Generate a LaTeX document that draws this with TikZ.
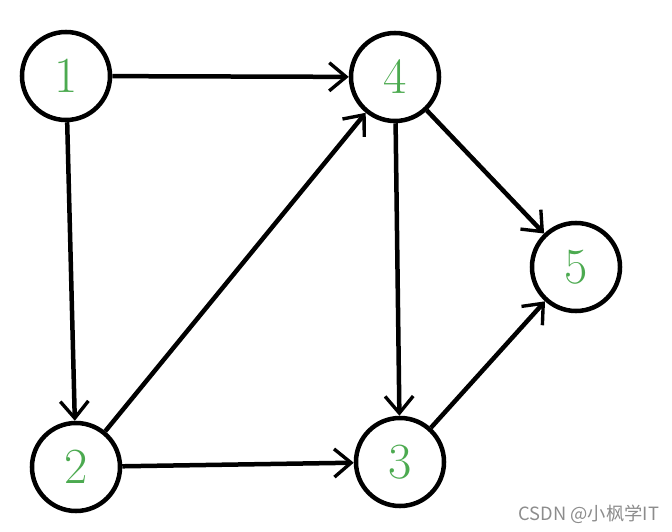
\documentclass[tikz,border=0pt]{standalone}
\usepackage{xcolor}
\usepackage{fontspec}
\usetikzlibrary{arrows.meta}
\newfontfamily\cjk{Noto Sans CJK SC}
\definecolor{numgreen}{RGB}{76,170,80}

\begin{document}
\begin{tikzpicture}[x=0.025cm,y=-0.025cm,
            vertex/.style={draw,circle,line width=3.2pt,minimum size=2.2cm,inner sep=0pt,
                text=numgreen,font=\fontsize{36}{40}\selectfont},
            edge/.style={line width=3.2pt,-{Straight Barb[length=12pt,width=20pt,line width=2.4pt]}}]
            \useasboundingbox (0,0) rectangle (672,532);

            \node[vertex] (n1) at (66,76) {1};
            \node[vertex] (n4) at (395,77) {4};
            \node[vertex] (n5) at (576,267) {5};
            \node[vertex] (n2) at (76,467) {2};
            \node[vertex] (n3) at (400,462) {3};

            \draw[edge] (n1) -- (n4);
            \draw[edge] (n1) -- (n2);
            \draw[edge] (n2) -- (n4);
            \draw[edge] (n2) -- (n3);
            \draw[edge] (n4) -- (n3);
            \draw[edge] (n4) -- (n5);
            \draw[edge] (n3) -- (n5);

            \node[text=black!45,font=\cjk\fontsize{13}{15}\selectfont,anchor=east] (mark) at (664,514) {CSDN @小枫学IT};
         \end{tikzpicture}
\end{document}
